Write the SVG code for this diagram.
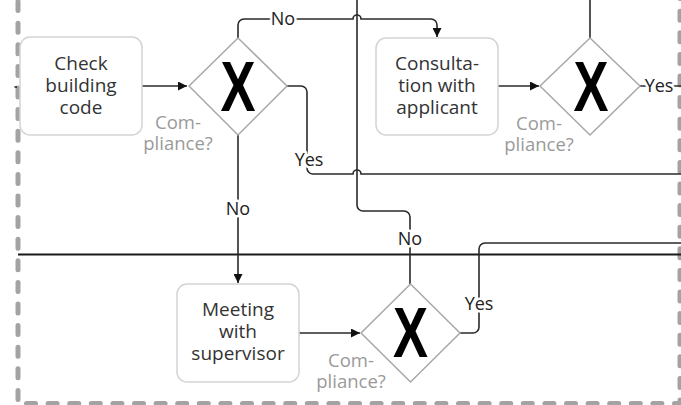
<svg xmlns="http://www.w3.org/2000/svg" width="681" height="405" viewBox="0 0 681 405">
  <style>
    .task rect { fill: #fff; stroke: #d4d4d4; stroke-width: 1.5; }
    .task text { font-family: "Open Sans", "Liberation Sans", sans-serif; font-size: 19px; fill: #333; text-anchor: middle; }
    .gw polygon { fill: #fff; stroke: #a8a8a8; stroke-width: 1.5; }
    .gw .mark { font-family: "Liberation Sans", Arial, sans-serif; font-weight: bold; font-size: 70px; fill: #000; text-anchor: middle; }
    .gw .q { font-family: "Open Sans", "Liberation Sans", sans-serif; font-size: 18.5px; fill: #9a9a9a; text-anchor: middle; }
    .flow { fill: none; stroke: #2a2a2a; stroke-width: 1.6; }
    .lbl { font-family: "Open Sans", "Liberation Sans", sans-serif; font-size: 18px; fill: #222; text-anchor: middle;
           stroke: #fff; stroke-width: 5; paint-order: stroke; stroke-linejoin: round; }
    .pool { fill: none; stroke: #a3a3a3; stroke-width: 5; stroke-linecap: round; stroke-dasharray: 9 12.6; }
    .lane { stroke: #1a1a1a; stroke-width: 2; }
  </style>
  <defs>
    <marker id="arrow" viewBox="0 0 10 10" refX="10" refY="5" markerWidth="9" markerHeight="9" markerUnits="userSpaceOnUse" orient="auto">
      <path d="M0,0 L10,5 L0,10 z" fill="#111"/>
    </marker>
  </defs>

  <rect width="681" height="405" fill="#fff"/>

  <!-- pool border and lane divider -->
  <g id="pool">
    <path class="pool" d="M18,-20 V403.5 H680 V-20"/>
    <line class="lane" x1="18" y1="254.5" x2="681" y2="254.5"/>
  </g>

  <!-- sequence flows -->
  <g id="connectors">
    <line x1="14.5" y1="87" x2="17" y2="87" stroke="#222" stroke-width="1.6"/>
    <path class="flow" d="M142,86 H187" marker-end="url(#arrow)"/>
    <path class="flow" d="M238,38 V25 A6,6 0 0 1 244,19 H353 A4,4 0 0 1 361,19 H431 A6,6 0 0 1 437,25 V37" marker-end="url(#arrow)"/>
    <path class="flow" d="M287,86 H301 A6,6 0 0 1 307,92 V168 A6,6 0 0 0 313,174 H353 A4,4 0 0 1 361,174 H681"/>
    <path class="flow" d="M238,135 V283" marker-end="url(#arrow)"/>
    <path class="flow" d="M357,0 V205 A6,6 0 0 0 363,211 H404 A6,6 0 0 1 410,217 V284"/>
    <path class="flow" d="M498,86 H539" marker-end="url(#arrow)"/>
    <path class="flow" d="M590,0 V38"/>
    <path class="flow" d="M640,86 H681"/>
    <path class="flow" d="M299,333 H360" marker-end="url(#arrow)"/>
    <path class="flow" d="M460,333 H473 A6,6 0 0 0 479,327 V249 A6,6 0 0 1 485,243 H681"/>
    <text class="lbl" x="283" y="25">No</text>
    <text class="lbl" x="309" y="166">Yes</text>
    <text class="lbl" x="238" y="215">No</text>
    <text class="lbl" x="410" y="245">No</text>
    <text class="lbl" x="479" y="310">Yes</text>
    <text class="lbl" x="659" y="92">Yes</text>
  </g>

  <!-- tasks -->
  <g id="check-building-code" class="task">
    <rect x="20" y="37" width="122" height="98" rx="10"/>
    <text><tspan x="81" y="70">Check</tspan><tspan x="81" y="92">building</tspan><tspan x="81" y="114">code</tspan></text>
  </g>
  <g id="consultation" class="task">
    <rect x="376" y="38" width="122" height="97" rx="10"/>
    <text><tspan x="437" y="70">Consulta-</tspan><tspan x="437" y="92">tion with</tspan><tspan x="437" y="114">applicant</tspan></text>
  </g>
  <g id="meeting-supervisor" class="task">
    <rect x="177" y="284" width="122" height="98" rx="10"/>
    <text><tspan x="238" y="316">Meeting</tspan><tspan x="238" y="338">with</tspan><tspan x="238" y="360">supervisor</tspan></text>
  </g>

  <!-- exclusive gateways -->
  <g id="gateway-1" class="gw">
    <polygon points="238,38 287,86 238,135 189,86"/>
    <text class="mark" transform="translate(238,111) scale(0.75,1)">X</text>
    <text class="q"><tspan x="178" y="129">Com-</tspan><tspan x="178" y="150">pliance?</tspan></text>
  </g>
  <g id="gateway-2" class="gw">
    <polygon points="590,38 640,86 590,135 540,86"/>
    <text class="mark" transform="translate(591,111) scale(0.75,1)">X</text>
    <text class="q"><tspan x="539" y="130">Com-</tspan><tspan x="539" y="151">pliance?</tspan></text>
  </g>
  <g id="gateway-3" class="gw">
    <polygon points="410.5,284 460,333 410.5,382 361,333"/>
    <text class="mark" transform="translate(410.5,357) scale(0.75,1)">X</text>
    <text class="q"><tspan x="351" y="367">Com-</tspan><tspan x="351" y="388">pliance?</tspan></text>
  </g>
</svg>
